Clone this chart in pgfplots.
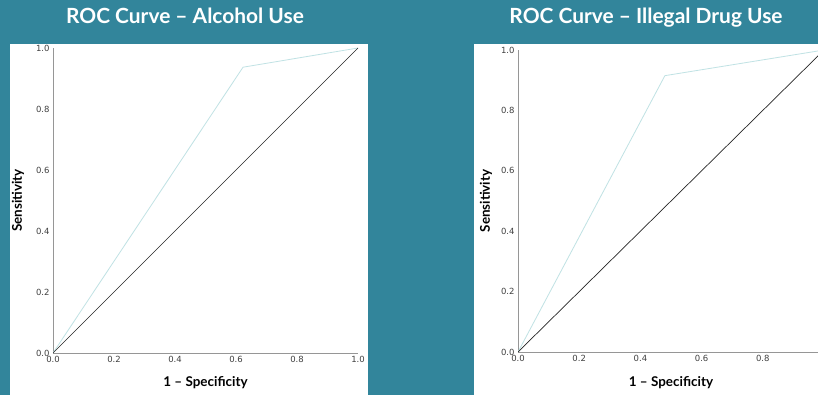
\documentclass[border=0pt]{standalone}
\usepackage{fontspec}
\setmainfont{Lato}
\newfontfamily\tickfont{DejaVu Sans}
\usepackage{pgfplots}
\pgfplotsset{compat=1.18}
\definecolor{bgteal}{RGB}{50,133,155}
\definecolor{rocline}{RGB}{192,226,228}
\definecolor{axgray}{RGB}{150,150,150}
\pgfplotsset{
  rocstyle/.style={
    scale only axis,
    axis lines=left,
    axis line style={draw=axgray, line width=0.8pt, -},
    xmin=0, xmax=1, ymin=0, ymax=1,
    xtick={0,0.2,0.4,0.6,0.8,1},
    ytick={0,0.2,0.4,0.6,0.8,1},
    xticklabel style={/pgf/number format/.cd, fixed, fixed zerofill, precision=1},
    yticklabel style={/pgf/number format/.cd, fixed, fixed zerofill, precision=1},
    /pgf/number format/assume math mode=true,
    tick label style={font=\tickfont\fontsize{8.5}{9}\selectfont, text=black!75},
    major tick length=0pt,
    label style={font=\bfseries\fontsize{13.5}{15}\selectfont, text=black},
    xlabel={1 – Specificity},
    ylabel={Sensitivity},
  }
}
\begin{document}
\begin{tikzpicture}[x=1bp,y=1bp]
\useasboundingbox (0,0) rectangle (818,395);
\clip (0,0) rectangle (818,395);
\fill[bgteal] (0,0) rectangle (818,395);
\fill[white] (10,0) rectangle (368,351);
\fill[white] (474,0) rectangle (818,351);
\node[font=\bfseries\fontsize{21}{23}\selectfont, text=white, anchor=base] at (185,372) {ROC Curve – Alcohol Use};
\node[font=\bfseries\fontsize{21}{23}\selectfont, text=white, anchor=base] at (646,372) {ROC Curve – Illegal Drug Use};
\begin{axis}[rocstyle, at={(53bp,42bp)}, anchor=origin, width=305bp, height=305bp,
  xlabel style={at={(axis description cs:0.5,-0.098)}, anchor=center},
  ylabel style={at={(axis description cs:-0.115,0.5)}, anchor=center}]
\addplot[rocline, line width=0.8pt] coordinates {(0,0) (0.623,0.937) (1,1)};
\addplot[black!85, line width=0.7pt] coordinates {(0,0) (1,1)};
\end{axis}
\begin{axis}[rocstyle, at={(518bp,43bp)}, anchor=origin, width=306bp, height=302bp,
  xlabel style={at={(axis description cs:0.5,-0.103)}, anchor=center},
  ylabel style={at={(axis description cs:-0.105,0.5)}, anchor=center}]
\addplot[rocline, line width=0.8pt] coordinates {(0,0) (0.48,0.915) (1,1)};
\addplot[black!85, line width=0.7pt] coordinates {(0,0) (1,1)};
\end{axis}
\end{tikzpicture}
\end{document}
